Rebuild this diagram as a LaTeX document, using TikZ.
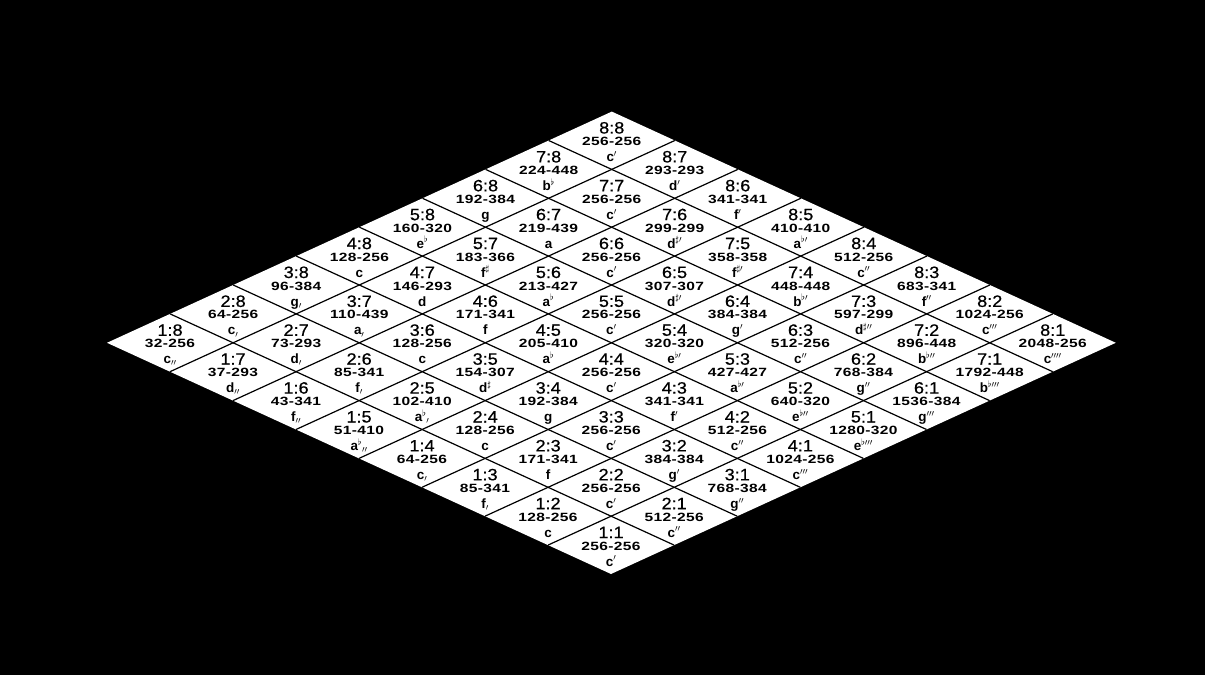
\documentclass[tikz,border=0pt]{standalone}
\usepackage{fontspec}
\setmainfont{Liberation Sans}
\newfontfamily\ratfont[FakeStretch=1.1,FakeBold=0.6]{Liberation Sans}
\newfontfamily\numfont[FakeStretch=1.3,LetterSpace=3]{Liberation Sans}
\tikzset{
  ratiotext/.style={anchor=base, inner sep=0pt, font=\ratfont\fontsize{16.5}{16.5}\selectfont},
  numtext/.style={anchor=base, inner sep=0pt, font=\numfont\bfseries\fontsize{12}{12}\selectfont},
  notetext/.style={anchor=base, inner sep=0pt, font=\bfseries\fontsize{13.5}{13.5}\selectfont},
  gridline/.style={line width=1.2bp, black},
}
\begin{document}
\begin{tikzpicture}[x=1bp,y=-1bp]
\fill[black] (0,0) rectangle (1205,675);
\useasboundingbox (0,0) rectangle (1205,675);
% corners of the lattice
\coordinate (cB) at (611,574);
\coordinate (cR) at ({611+8*63.1},{574-8*28.9});
\coordinate (cL) at ({611-8*63},{574-8*28.9});
\coordinate (cT) at ({611+8*63.1-8*63},{574-16*28.9});
\fill[white] (cB) -- (cR) -- (cT) -- (cL) -- cycle;
\foreach \k in {0,...,8}{
  \coordinate (a0-\k) at ({611+\k*63.1},{574-\k*28.9});
  \coordinate (a8-\k) at ({611+\k*63.1-8*63},{574-(\k+8)*28.9});
  \coordinate (b0-\k) at ({611-\k*63},{574-\k*28.9});
  \coordinate (b8-\k) at ({611+8*63.1-\k*63},{574-(\k+8)*28.9});
}
\foreach \k in {1,...,7}{
  \draw[gridline] (a0-\k) -- (a8-\k);
  \draw[gridline] (b0-\k) -- (b8-\k);
}
\foreach \ii/\jj/\nums/\nt in {
  8/8/256-256/{c$^{\prime}$},
  7/8/224-448/{b$^{\flat}$},
  8/7/293-293/{d$^{\prime}$},
  7/7/256-256/{c$^{\prime}$},
  6/8/192-384/{g},
  8/6/341-341/{f$^{\prime}$},
  6/7/219-439/{a},
  7/6/299-299/{d$^{\sharp\prime}$},
  5/8/160-320/{e$^{\flat}$},
  8/5/410-410/{a$^{\flat\prime}$},
  5/7/183-366/{f$^{\sharp}$},
  6/6/256-256/{c$^{\prime}$},
  7/5/358-358/{f$^{\sharp\prime}$},
  4/8/128-256/{c},
  8/4/512-256/{c$^{\prime\prime}$},
  4/7/146-293/{d},
  5/6/213-427/{a$^{\flat}$},
  6/5/307-307/{d$^{\sharp\prime}$},
  7/4/448-448/{b$^{\flat\prime}$},
  3/8/96-384/{g$_{\prime}$},
  8/3/683-341/{f$^{\prime\prime}$},
  3/7/110-439/{a$_{\prime}$},
  4/6/171-341/{f},
  5/5/256-256/{c$^{\prime}$},
  6/4/384-384/{g$^{\prime}$},
  7/3/597-299/{d$^{\sharp\prime\prime}$},
  2/8/64-256/{c$_{\prime}$},
  8/2/1024-256/{c$^{\prime\prime\prime}$},
  2/7/73-293/{d$_{\prime}$},
  3/6/128-256/{c},
  4/5/205-410/{a$^{\flat}$},
  5/4/320-320/{e$^{\flat\prime}$},
  6/3/512-256/{c$^{\prime\prime}$},
  7/2/896-448/{b$^{\flat\prime\prime}$},
  1/8/32-256/{c$_{\prime\prime}$},
  8/1/2048-256/{c$^{\prime\prime\prime\prime}$},
  1/7/37-293/{d$_{\prime\prime}$},
  2/6/85-341/{f$_{\prime}$},
  3/5/154-307/{d$^{\sharp}$},
  4/4/256-256/{c$^{\prime}$},
  5/3/427-427/{a$^{\flat\prime}$},
  6/2/768-384/{g$^{\prime\prime}$},
  7/1/1792-448/{b$^{\flat\prime\prime\prime}$},
  1/6/43-341/{f$_{\prime\prime}$},
  2/5/102-410/{a$^{\flat}{}_{\prime}$},
  3/4/192-384/{g},
  4/3/341-341/{f$^{\prime}$},
  5/2/640-320/{e$^{\flat\prime\prime}$},
  6/1/1536-384/{g$^{\prime\prime\prime}$},
  1/5/51-410/{a$^{\flat}{}_{\prime\prime}$},
  2/4/128-256/{c},
  3/3/256-256/{c$^{\prime}$},
  4/2/512-256/{c$^{\prime\prime}$},
  5/1/1280-320/{e$^{\flat\prime\prime\prime}$},
  1/4/64-256/{c$_{\prime}$},
  2/3/171-341/{f},
  3/2/384-384/{g$^{\prime}$},
  4/1/1024-256/{c$^{\prime\prime\prime}$},
  1/3/85-341/{f$_{\prime}$},
  2/2/256-256/{c$^{\prime}$},
  3/1/768-384/{g$^{\prime\prime}$},
  1/2/128-256/{c},
  2/1/512-256/{c$^{\prime\prime}$},
  1/1/256-256/{c$^{\prime}$}}{
  \pgfmathsetmacro\cx{611+(\ii-0.5)*63.1-(\jj-0.5)*63}
  \pgfmathsetmacro\cy{574-(\ii+\jj-1)*28.9}
  \node[ratiotext] (r-\ii-\jj) at ({\cx},{\cy-7}) {\ii:\jj};
  \node[numtext] (f-\ii-\jj) at ({\cx},{\cy+5}) {\nums};
  \node[notetext] (n-\ii-\jj) at ({\cx},{\cy+21}) {\nt};
}
\end{tikzpicture}
\end{document}
